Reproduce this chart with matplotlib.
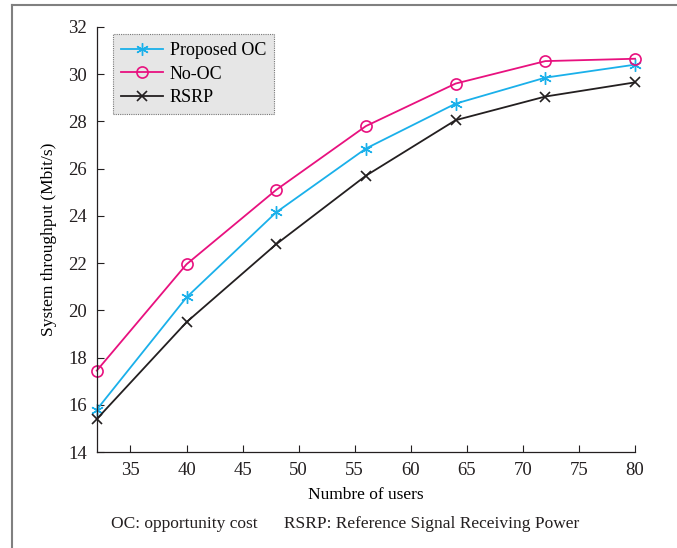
import matplotlib.pyplot as plt
from matplotlib.lines import Line2D

# Data
users = [32, 40, 48, 56, 64, 72, 80]
proposed_oc = [15.8, 20.55, 24.15, 26.85, 28.75, 29.85, 30.4]
no_oc = [17.45, 21.95, 25.1, 27.8, 29.6, 30.55, 30.65]
rsrp = [15.4, 19.5, 22.8, 25.7, 28.05, 29.05, 29.65]

xticks = [35, 40, 45, 50, 55, 60, 65, 70, 75, 80]
yticks = [14, 16, 18, 20, 22, 24, 26, 28, 30, 32]

plt.rcParams['font.family'] = ['Liberation Serif', 'DejaVu Serif']

fig = plt.figure(figsize=(6.77, 5.48), dpi=100)
ax = fig.add_axes([0.143, 0.175, 0.795, 0.776])

ax.plot(users, proposed_oc, color='#1ab0ea', linewidth=1.3, clip_on=False,
        marker=(6, 2, 0), markersize=9, markeredgewidth=1.0, label='Proposed OC')
ax.plot(users, no_oc, color='#e8117f', linewidth=1.3, clip_on=False,
        marker='o', markersize=8, markerfacecolor='none', markeredgewidth=1.2, label='No-OC')
ax.plot(users, rsrp, color='#231f20', linewidth=1.3, clip_on=False,
        marker='x', markersize=7, markeredgewidth=1.2, label='RSRP')

ax.set_xlim(32, 80)
ax.set_ylim(14, 32)
ax.set_xticks(xticks)
ax.set_yticks(yticks)
ax.tick_params(direction='in', length=5, width=0.8, labelsize=13.5,
               colors='#231f20', pad=7)
ax.spines['top'].set_visible(False)
ax.spines['right'].set_visible(False)
for s in ('left', 'bottom'):
    ax.spines[s].set_linewidth(0.9)
    ax.spines[s].set_color('#231f20')

ax.set_xlabel('Numbre of users', fontsize=12.5, labelpad=6)
ax.set_ylabel('System throughput (Mbit/s)', fontsize=12.5, labelpad=8)

leg = ax.legend(loc='upper left', bbox_to_anchor=(0.03, 0.983), fontsize=13,
                fancybox=False, framealpha=1, handlelength=2.3,
                borderpad=0.45, labelspacing=0.35, handletextpad=0.4,
                borderaxespad=0)
leg.get_frame().set_facecolor('#e6e6e6')
leg.get_frame().set_edgecolor('#777777')
leg.get_frame().set_linestyle((0, (1, 1)))
leg.get_frame().set_linewidth(0.8)

fig.text(0.51, 0.043, 'OC: opportunity cost      RSRP: Reference Signal Receiving Power',
         ha='center', va='center', fontsize=12.5, color='#231f20')

# gray frame around the figure
fig.add_artist(Line2D([0.018, 0.018], [0, 0.991], color='#808080', linewidth=1.5))
fig.add_artist(Line2D([0.018, 1.0], [0.991, 0.991], color='#808080', linewidth=1.5))

fig.savefig('out.png', dpi=100)
